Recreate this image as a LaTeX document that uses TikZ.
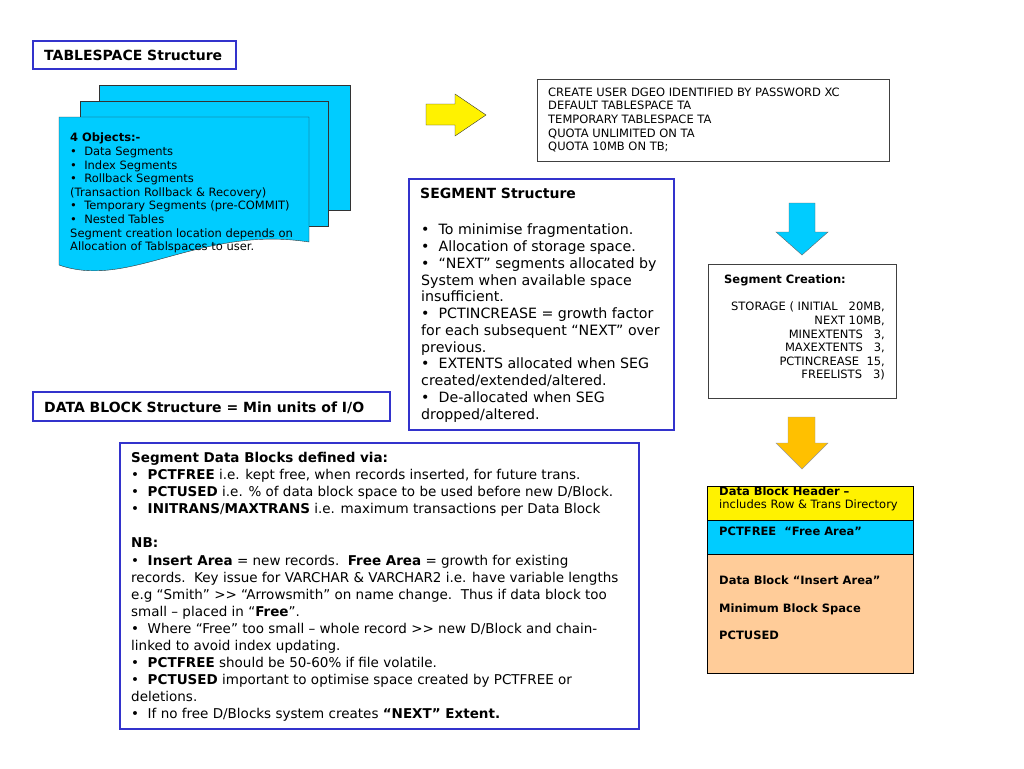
\documentclass[tikz,border=0pt]{standalone}
\usepackage{fontspec}
\setmainfont{DejaVu Sans}[Ligatures=TeXOff]
\usetikzlibrary{positioning}
\definecolor{boxblue}{RGB}{51,51,204}
\definecolor{segcyan}{RGB}{0,204,255}
\definecolor{peach}{RGB}{255,204,153}
\definecolor{gold}{RGB}{255,192,0}
\newcommand{\smallfont}{\fontsize{11.5}{13.6}\selectfont}
\newcommand{\headfont}{\fontsize{14}{16.8}\selectfont\bfseries}
\newcommand{\bodyfont}{\fontsize{14.2}{16.75}\selectfont}
\newcommand{\bigfont}{\fontsize{13.5}{17.1}\selectfont}

\begin{document}
\begin{tikzpicture}[x=1pt,y=-1pt,
  bluebox/.style={draw=boxblue,line width=1.2pt},
  greybox/.style={draw=black!75,line width=0.8pt},
  txt/.style={anchor=north west,inner sep=0pt,align=left}]
  \useasboundingbox[fill=white] (0,0) rectangle (1024,768); % 全体の大きさ

  % TABLESPACE
  \draw[bluebox] (33,41) rectangle (236,69); % 見出しの枠
  \node[txt,font=\headfont] (tshead) at (44,50) {TABLESPACE Structure};
  \draw[fill=segcyan,draw=black!80] (99,85) rectangle (350,210); % 一番奥の書類
  \draw[fill=segcyan,draw=black!80] (80,101) rectangle (328,226); % 中央の書類
  \draw[fill=segcyan,draw=black!80] (59,117) -- (309,117) -- (309,242)
    .. controls (200,225) and (130,290) .. (59,265) -- cycle; % 手前の書類（下辺が波形）
  \node[txt,font=\smallfont] (objects) at (70,133) {\textbf{4 Objects:-}\\
    •\ \ Data Segments\\
    •\ \ Index Segments\\
    •\ \ Rollback Segments\\
    (Transaction Rollback \& Recovery)\\
    •\ \ Temporary Segments (pre-COMMIT)\\
    •\ \ Nested Tables\\
    Segment creation location depends on\\
    Allocation of Tablspaces to user.};

  % 右向きの矢印
  \draw[fill=yellow,draw=black!80] (426,104) -- (455,104) -- (455,94) -- (486,115)
    -- (455,136) -- (455,125) -- (426,125) -- cycle;

  % CREATE USER
  \draw[greybox] (537,79) rectangle (889,161);
  \node[txt,font=\smallfont] (create) at (548,87.5) {CREATE USER DGEO IDENTIFIED BY PASSWORD XC\\
    DEFAULT TABLESPACE TA\\
    TEMPORARY TABLESPACE TA\\
    QUOTA UNLIMITED ON TA\\
    QUOTA 10MB ON TB;};

  % SEGMENT Structure
  \draw[bluebox] (409,179) rectangle (674,430);
  \node[txt,font=\headfont] (seghead) at (420,188) {SEGMENT Structure};
  \node[txt,font=\bodyfont] (segbody) at (421,224) {•\ \ To minimise fragmentation.\\
    •\ \ Allocation of storage space.\\
    •\ \ “NEXT” segments allocated by\\
    System when available space\\
    insufficient.\\
    •\ \ PCTINCREASE = growth factor\\
    for each subsequent “NEXT” over\\
    previous.\\
    •\ \ EXTENTS allocated when SEG\\
    created/extended/altered.\\
    •\ \ De-allocated when SEG\\
    dropped/altered.};

  % 下向きの矢印（青）
  \draw[fill=segcyan,draw=black!60] (789,203) -- (815,203) -- (815,232) -- (828,232)
    -- (802,255) -- (776,232) -- (789,232) -- cycle;

  % Segment Creation
  \draw[greybox] (708,264) rectangle (896,398);
  \node[txt,font=\smallfont\bfseries] (creahead) at (724,275) {Segment Creation:};
  \node[anchor=north east,inner sep=0pt,align=right,font=\smallfont] (storage) at (885,302)
    {STORAGE ( INITIAL\ \ \ 20MB,\\
    NEXT 10MB,\\
    MINEXTENTS\ \ \ 3,\\
    MAXEXTENTS\ \ \ 3,\\
    PCTINCREASE\ \ 15,\\
    FREELISTS\ \ \ 3)};

  % 下向きの矢印（黄）
  \draw[fill=gold,draw=black!40] (788,417) -- (815,417) -- (815,443) -- (828,443)
    -- (802,469) -- (776,443) -- (788,443) -- cycle;

  % Data Block
  \draw[fill=yellow,draw=black] (707,486) rectangle (913,520); % ヘッダ
  \draw[fill=segcyan,draw=black] (707,520) rectangle (913,554); % 空き領域
  \draw[fill=peach,draw=black] (707,554) rectangle (913,673); % 挿入領域
  \begin{scope}
    \clip (707,486.5) rectangle (913,520); % 見出しの上端が欠けている
    \node[txt,font=\smallfont] (header) at (719,486.3) {\textbf{Data Block Header –}\\
      includes Row \& Trans Directory};
  \end{scope}
  \node[txt,font=\smallfont\bfseries] (freearea) at (719,526.5) {PCTFREE\ \ “Free Area”};
  \node[txt,font=\smallfont\bfseries] (insert) at (719,576) {Data Block “Insert Area”\\[13.5pt]
    Minimum Block Space\\[13.5pt]
    PCTUSED};

  % DATA BLOCK Structure
  \draw[bluebox] (33,392) rectangle (390,421);
  \node[txt,font=\headfont] (dbhead) at (44,401.5) {DATA BLOCK Structure = Min units of I/O};

  % Segment Data Blocks
  \draw[bluebox] (120,443) rectangle (639,729);
  \node[txt,font=\bigfont] (defined) at (131,452) {\textbf{Segment Data Blocks defined via:}\\
    •\ \ \textbf{PCTFREE} i.e. kept free, when records inserted, for future trans.\\
    •\ \ \textbf{PCTUSED} i.e. \% of data block space to be used before new D/Block.\\
    •\ \ \textbf{INITRANS}/\textbf{MAXTRANS} i.e. maximum transactions per Data Block\\[17.1pt]
    \textbf{NB:}\\
    •\ \ \textbf{Insert Area} = new records.\ \ \textbf{Free Area} = growth for existing\\
    records.\ \ Key issue for VARCHAR \& VARCHAR2 i.e. have variable lengths\\
    e.g “Smith” >> “Arrowsmith” on name change.\ \ Thus if data block too\\
    small – placed in “\textbf{Free}”.\\
    •\ \ Where “Free” too small – whole record >> new D/Block and chain-\\
    linked to avoid index updating.\\
    •\ \ \textbf{PCTFREE} should be 50-60\% if file volatile.\\
    •\ \ \textbf{PCTUSED} important to optimise space created by PCTFREE or\\
    deletions.\\
    •\ \ If no free D/Blocks system creates \textbf{“NEXT” Extent.}};
\end{tikzpicture}
\end{document}
